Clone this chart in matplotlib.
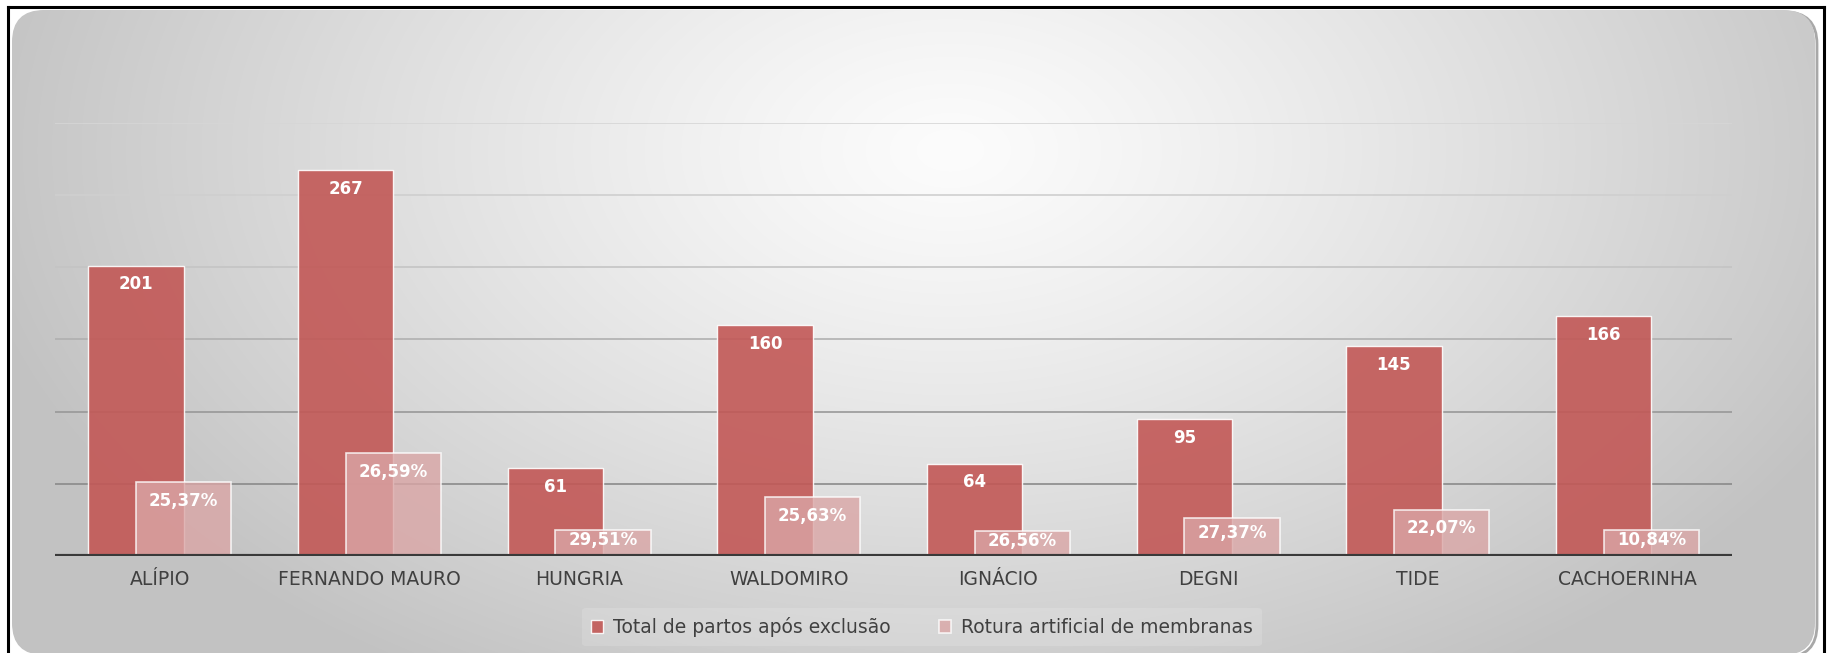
import matplotlib.pyplot as plt
import numpy as np
from matplotlib.patches import FancyBboxPatch
from matplotlib.lines import Line2D

categories = ["ALÍPIO", "FERNANDO MAURO", "HUNGRIA", "WALDOMIRO",
              "IGNÁCIO", "DEGNI", "TIDE", "CACHOERINHA"]
total_partos = [201, 267, 61, 160, 64, 95, 145, 166]
rotura_count = [51, 71, 18, 41, 17, 26, 32, 18]
rotura_pct = [25.37, 26.59, 29.51, 25.63, 26.56, 27.37, 22.07, 10.84]
series_names = ["Total de partos após exclusão", "Rotura artificial de membranas"]

W, H = 1829, 653
fig = plt.figure(figsize=(W / 100, H / 100), dpi=100)
fig.patch.set_facecolor("white")

# background: rounded panel with a soft radial gradient
bg = fig.add_axes([0, 0, 1, 1])
bg.set_xlim(0, W)
bg.set_ylim(H, 0)
bg.axis("off")
yy, xx = np.mgrid[0:H, 0:W]
r = np.sqrt(((xx - 950) / 1000.0) ** 2 + ((yy - 150) / 620.0) ** 2)
shade = 252 - 58 * np.clip(r, 0, 1) ** 1.2
img = np.dstack([shade, shade, shade]) / 255.0
panel = FancyBboxPatch((12, 10), W - 26, H - 8, boxstyle="round,pad=0,rounding_size=32",
                       transform=bg.transData, facecolor="none", edgecolor="none")
bg.add_patch(panel)
im = bg.imshow(img, extent=(0, W, H, 0), aspect="auto", zorder=0)
im.set_clip_path(panel)
shadow = FancyBboxPatch((14, 12), W - 26, H - 8, boxstyle="round,pad=0,rounding_size=32",
                        transform=bg.transData, facecolor="none", edgecolor="#a8a8a8",
                        linewidth=2, zorder=-1)
bg.add_patch(shadow)
for xs, ys in [((8, 1824), (7, 7)), ((8, 8), (7, H)), ((1824, 1824), (7, H))]:
    bg.add_line(Line2D(xs, ys, color="black", linewidth=2.2, zorder=5))

ax = fig.add_axes([0.0301, 0.1485, 0.917, 0.6639])
ax.set_facecolor("none")
x = np.arange(len(categories))
w = 0.455
off = w / 4

ax.set_ylim(0, 300)
ax.set_xlim(-0.5, len(categories) - 0.5)
grid_cols = ["#8a8a8a", "#989898", "#b0b0b0", "#c4c4c4", "#cfcfcf", "#d6d6d6"]
for k, g in enumerate(range(50, 301, 50)):
    ax.axhline(g, color=grid_cols[k], linewidth=1.2, zorder=1)

dark = ax.bar(x - off, total_partos, w, color="#c25856", alpha=0.9,
              edgecolor=(1, 1, 1, 0.45), linewidth=1, zorder=2, label=series_names[0])
light = ax.bar(x + off, rotura_count, w, color="#daa6a6", alpha=0.8,
               edgecolor=(1, 1, 1, 0.55), linewidth=1.2, zorder=3, label=series_names[1])

for xi, v in zip(x, total_partos):
    ax.text(xi - off, max(v - 13, v * 0.6), str(v), ha="center", va="center",
            color="white", fontsize=12, fontweight="bold", zorder=4)
for xi, v, p in zip(x, rotura_count, rotura_pct):
    ax.text(xi + off, max(v - 13, v * 0.6), f"{p:.2f}%".replace(".", ","),
            ha="center", va="center", color="white", fontsize=12,
            fontweight="bold", zorder=4)

ax.axhline(0, color="#3a3a3a", linewidth=3, zorder=5)
for s in ax.spines.values():
    s.set_visible(False)
ax.set_yticks([])
ax.set_xticks(x)
ax.set_xticklabels(categories, fontsize=13.5, color="#404040")
ax.tick_params(axis="x", length=0, pad=10)

leg = fig.legend(handles=[dark, light], labels=series_names, loc="center",
                 bbox_to_anchor=(0.504, 0.04), ncol=2, frameon=True,
                 fontsize=13.5, handlelength=0.65, handleheight=0.65,
                 handletextpad=0.5, columnspacing=2.6, borderpad=0.5,
                 framealpha=0.15, facecolor="white", edgecolor="none")
for t in leg.get_texts():
    t.set_color("#404040")

fig.savefig("out.png", dpi=100)
